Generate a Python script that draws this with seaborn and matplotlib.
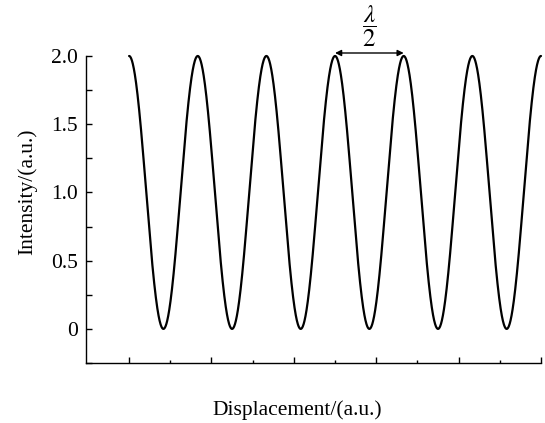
import numpy as np
import pandas as pd
import matplotlib
matplotlib.use("Agg")
import matplotlib.pyplot as plt
from matplotlib.ticker import MultipleLocator, FixedLocator, FixedFormatter, NullFormatter
import seaborn as sns

# Values
x_start, x_end = 0.0, 5.0          # displacement range (a.u.), curve starts at a peak
n_periods = 6                        # number of full fringes shown
i_mean, i_amp = 1.0, 1.0             # intensity offset and amplitude
xtick_major = [0, 1, 2, 3, 4, 5]
xtick_minor = [0.5, 1.5, 2.5, 3.5, 4.5]
ytick_vals = [0.0, 0.5, 1.0, 1.5, 2.0]
ytick_labels = ["0", "0.5", "1.0", "1.5", "2.0"]
arrow_peaks = [2.5, 2.5 + 5.0 / 6]   # the two peaks marked by λ/2

sns.set_theme(style="white")
plt.rcParams["font.family"] = ["Liberation Serif", "DejaVu Serif"]
plt.rcParams["mathtext.fontset"] = "stix"

x = np.linspace(x_start, x_end, 2000)
period = (x_end - x_start) / n_periods
y = i_mean + i_amp * np.cos(2 * np.pi * (x - x_start) / period)
df = pd.DataFrame({"Displacement": x, "Intensity": y})

fig = plt.figure(figsize=(5.45, 4.23), dpi=100)
ax = fig.add_axes([86 / 545, 1 - 363 / 423, (541 - 86) / 545, (363 - 56) / 423])
sns.lineplot(data=df, x="Displacement", y="Intensity", ax=ax, color="black",
             linewidth=1.6, clip_on=False)

ax.set_xlim(-0.523, 5.0)
ax.set_ylim(-0.25, 2.0)
for s in ["top", "right"]:
    ax.spines[s].set_visible(False)
for s in ["left", "bottom"]:
    ax.spines[s].set_color("black")
    ax.spines[s].set_linewidth(1.0)

ax.xaxis.set_major_locator(FixedLocator(xtick_major))
ax.xaxis.set_minor_locator(FixedLocator(xtick_minor))
ax.xaxis.set_major_formatter(NullFormatter())
ax.yaxis.set_major_locator(FixedLocator(ytick_vals))
ax.yaxis.set_major_formatter(FixedFormatter(ytick_labels))
ax.yaxis.set_minor_locator(MultipleLocator(0.25))
fs = 15.5
ax.tick_params(axis="both", which="major", direction="in", length=4, width=1.0,
               color="black", labelsize=fs, labelcolor="black", pad=6)
ax.tick_params(axis="x", which="minor", direction="in", length=2, width=1.0, color="black")
ax.tick_params(axis="y", which="minor", direction="in", length=4, width=1.0, color="black")
ax.tick_params(axis="x", which="both", bottom=True)
ax.tick_params(axis="y", which="both", left=True)

ax.set_xlabel("")
ax.set_ylabel("")
fig.text(297 / 545, 1 - 410 / 423, "Displacement/(a.u.)", ha="center", va="center",
         fontsize=fs, color="black")
fig.text(27 / 545, 1 - 192 / 423, "Intensity/(a.u.)", ha="center", va="center",
         rotation=90, fontsize=fs, color="black")

ax.annotate("", xy=(arrow_peaks[1], 2.022), xytext=(arrow_peaks[0], 2.022),
            arrowprops=dict(arrowstyle="<|-|>", color="black", lw=1.0,
                            shrinkA=0, shrinkB=0, mutation_scale=9),
            annotation_clip=False)
ax.text((arrow_peaks[0] + arrow_peaks[1]) / 2, 2.05, r"$\dfrac{\lambda}{2}$",
        ha="center", va="bottom", fontsize=18, color="black", clip_on=False)

fig.savefig("out.png", dpi=100)
